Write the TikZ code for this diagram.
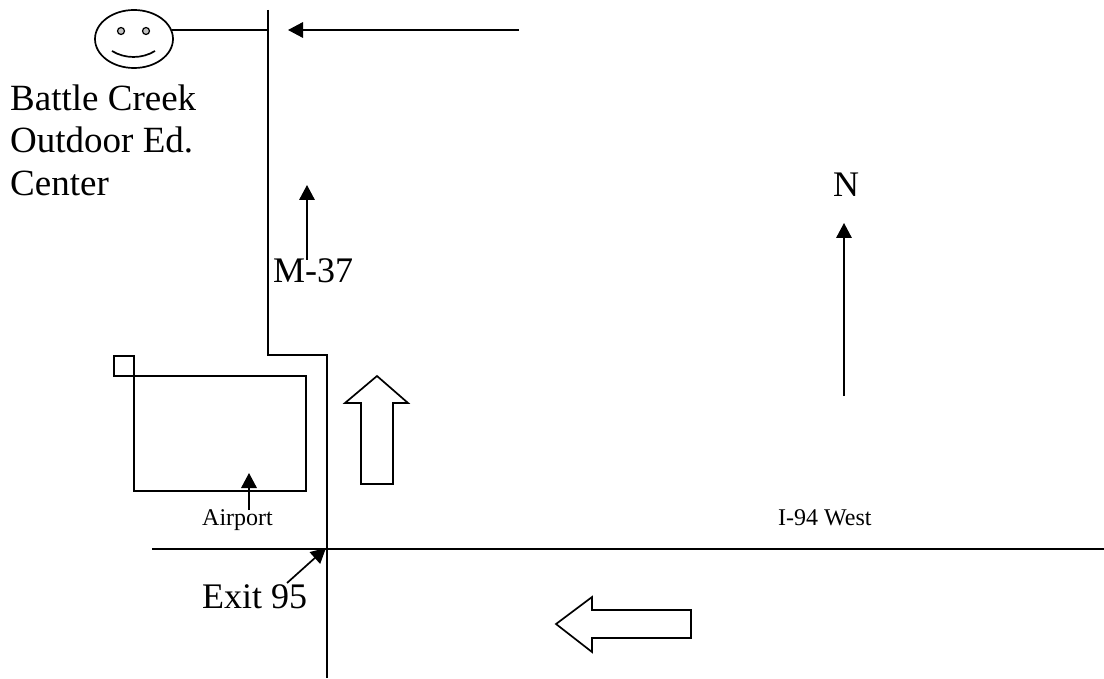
\documentclass[tikz,border=0pt]{standalone}
\usepackage{fontspec}
\setmainfont{Liberation Serif}
\usetikzlibrary{arrows.meta,shapes.geometric}
\tikzset{
    road/.style = {line width = 1.7pt},
    pointer/.style = {line width = 1.7pt, -{Triangle[length=15pt,width=15.5pt]}},
    biglabel/.style = {font = \fontsize{36}{42}\selectfont, inner sep = 0pt},
    placelabel/.style = {font = \fontsize{37}{42}\selectfont, inner sep = 0pt},
    smalllabel/.style = {font = \fontsize{24}{28}\selectfont, inner sep = 0pt}
}
\begin{document}
\begin{tikzpicture}[x = 1pt, y = -1pt]
                \useasboundingbox (0,0) rectangle (1104,679);
                % the face
                \node[ellipse, draw, road, minimum width = 78pt, minimum height = 58pt, inner sep = 0pt] (face) at (134,39) {};
                \draw[line width = 1.2pt, fill = black!25] (121,31) circle (3.5);
                \draw[line width = 1.2pt, fill = black!25] (146,31) circle (3.5);
                \draw[road] (112,51) .. controls (125,59) and (142,59) .. (155,51);
                % roads
                \coordinate (junction) at (268,30);
                \draw[road] (172,30) -- (junction);
                \draw[road] (268,10) -- (268,355) -- (327,355) -- (327,678);
                \draw[road] (152,549) -- (1104,549);
                % airport
                \draw[road] (134,376) rectangle (306,491);
                \draw[road] (114,356) rectangle (134,376);
                % pointers
                \draw[pointer] (519,30) -- (288,30);
                \draw[pointer] (307,260) -- (307,185);
                \draw[pointer] (844,396) -- (844,223);
                \draw[pointer] (249,510) -- (249,473);
                \draw[pointer] (287,583) -- (326,548);
                % block arrows
                \draw[road] (377,376) -- (408,403) -- (393,403) -- (393,484) -- (361,484) -- (361,403) -- (345,403) -- cycle;
                \draw[road] (556,624) -- (592,597) -- (592,610) -- (691,610) -- (691,638) -- (592,638) -- (592,652) -- cycle;
                % labels
                \node[placelabel, anchor = base west] (battle) at (10,111) {Battle Creek};
                \node[placelabel, anchor = base west] (outdoor) at (10,153) {Outdoor Ed.};
                \node[placelabel, anchor = base west] (center) at (10,196) {Center};
                \node[biglabel, anchor = base west] (m37) at (273,283) {M-37};
                \node[biglabel, anchor = base] (north) at (846,197) {N};
                \node[biglabel, anchor = base west] (exit) at (202,608) {Exit 95};
                \node[smalllabel, anchor = base west] (airport) at (202,525) {Airport};
                \node[smalllabel, anchor = base west] (west) at (778,525) {I-94 West};
            \end{tikzpicture}
\end{document}
